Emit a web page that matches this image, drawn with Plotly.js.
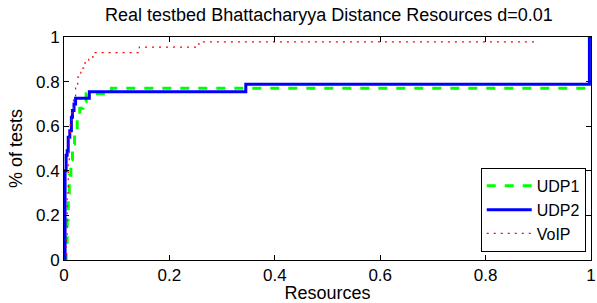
<!DOCTYPE html>
<html>
<head>
<meta charset="utf-8">
<script src="https://cdn.plot.ly/plotly-3.0.1.min.js"></script>
<style>html,body{margin:0;padding:0;background:#fff}#chart{width:597px;height:303px}</style>
</head>
<body>
<div id="chart"></div>
<script>
// UDP1 (green dashed) – empirical CDF steps
const udp1X = [0, 0.004, 0.006, 0.008, 0.010, 0.013, 0.016, 0.020, 0.025, 0.030, 0.036, 0.042, 0.090, 1.0];
const udp1Y = [0, 0.08, 0.18, 0.30, 0.38, 0.45, 0.52, 0.58, 0.63, 0.68, 0.71, 0.745, 0.77, 0.77];
// UDP2 (blue solid)
const udp2X = [0, 0.002, 0.004, 0.006, 0.008, 0.011, 0.014, 0.016, 0.019, 0.022, 0.048, 0.345, 0.997];
const udp2Y = [0, 0.40, 0.47, 0.49, 0.55, 0.58, 0.64, 0.67, 0.70, 0.725, 0.755, 0.788, 1.0];
// VoIP (red dotted)
const voipX = [0, 0.004, 0.006, 0.008, 0.010, 0.012, 0.015, 0.018, 0.022, 0.026, 0.032, 0.040, 0.047, 0.055, 0.143, 0.256, 0.90];
const voipY = [0, 0.10, 0.30, 0.45, 0.55, 0.62, 0.68, 0.73, 0.78, 0.82, 0.86, 0.89, 0.91, 0.93, 0.955, 0.978, 0.978];

const tickVals = [0, 0.2, 0.4, 0.6, 0.8, 1];
const tickText = ['0', '0.2', '0.4', '0.6', '0.8', '1'];

const font = 'Liberation Sans, Arial, sans-serif';

const traces = [
  {x: udp1X, y: udp1Y, name: 'UDP1', mode: 'lines', line: {shape: 'hv', color: '#00ff00', width: 3, dash: '9px,9px'}},
  {x: udp2X, y: udp2Y, name: 'UDP2', mode: 'lines', line: {shape: 'hv', color: '#0000ff', width: 3}},
  {x: voipX, y: voipY, name: 'VoIP', mode: 'lines', line: {shape: 'hv', color: '#ff0000', width: 1.2, dash: '2px,5px'}}
];

const axisCommon = {
  range: [0, 1], showgrid: false, zeroline: false, showline: true, mirror: 'ticks',
  linecolor: '#000', linewidth: 1, ticks: 'inside', ticklen: 5, tickcolor: '#000',
  tickvals: tickVals, ticktext: tickText, tickfont: {family: font, size: 17, color: '#000'},
  ticklabeloverflow: 'allow'
};

const layout = {
  width: 597, height: 303,
  margin: {l: 64, r: 6, t: 37, b: 43},
  paper_bgcolor: '#fff', plot_bgcolor: '#fff',
  title: {text: 'Real testbed Bhattacharyya Distance Resources d=0.01', font: {family: font, size: 18, color: '#000'}, x: 0.551, xanchor: 'center', y: 0.95, yanchor: 'middle'},
  xaxis: Object.assign({}, axisCommon, {title: {text: 'Resources', font: {family: font, size: 18, color: '#000'}, standoff: 1}}),
  yaxis: Object.assign({}, axisCommon, {title: {text: '% of tests', font: {family: font, size: 18, color: '#000'}, standoff: 8}}),
  legend: {x: 0.99, xanchor: 'right', y: 0.036, yanchor: 'bottom', bgcolor: '#fff', bordercolor: '#000', borderwidth: 1,
           font: {family: font, size: 16, color: '#000'}, itemwidth: 45, tracegroupgap: 0},
  showlegend: true
};

Plotly.newPlot('chart', traces, layout, {displayModeBar: false, staticPlot: true});
</script>
</body>
</html>
